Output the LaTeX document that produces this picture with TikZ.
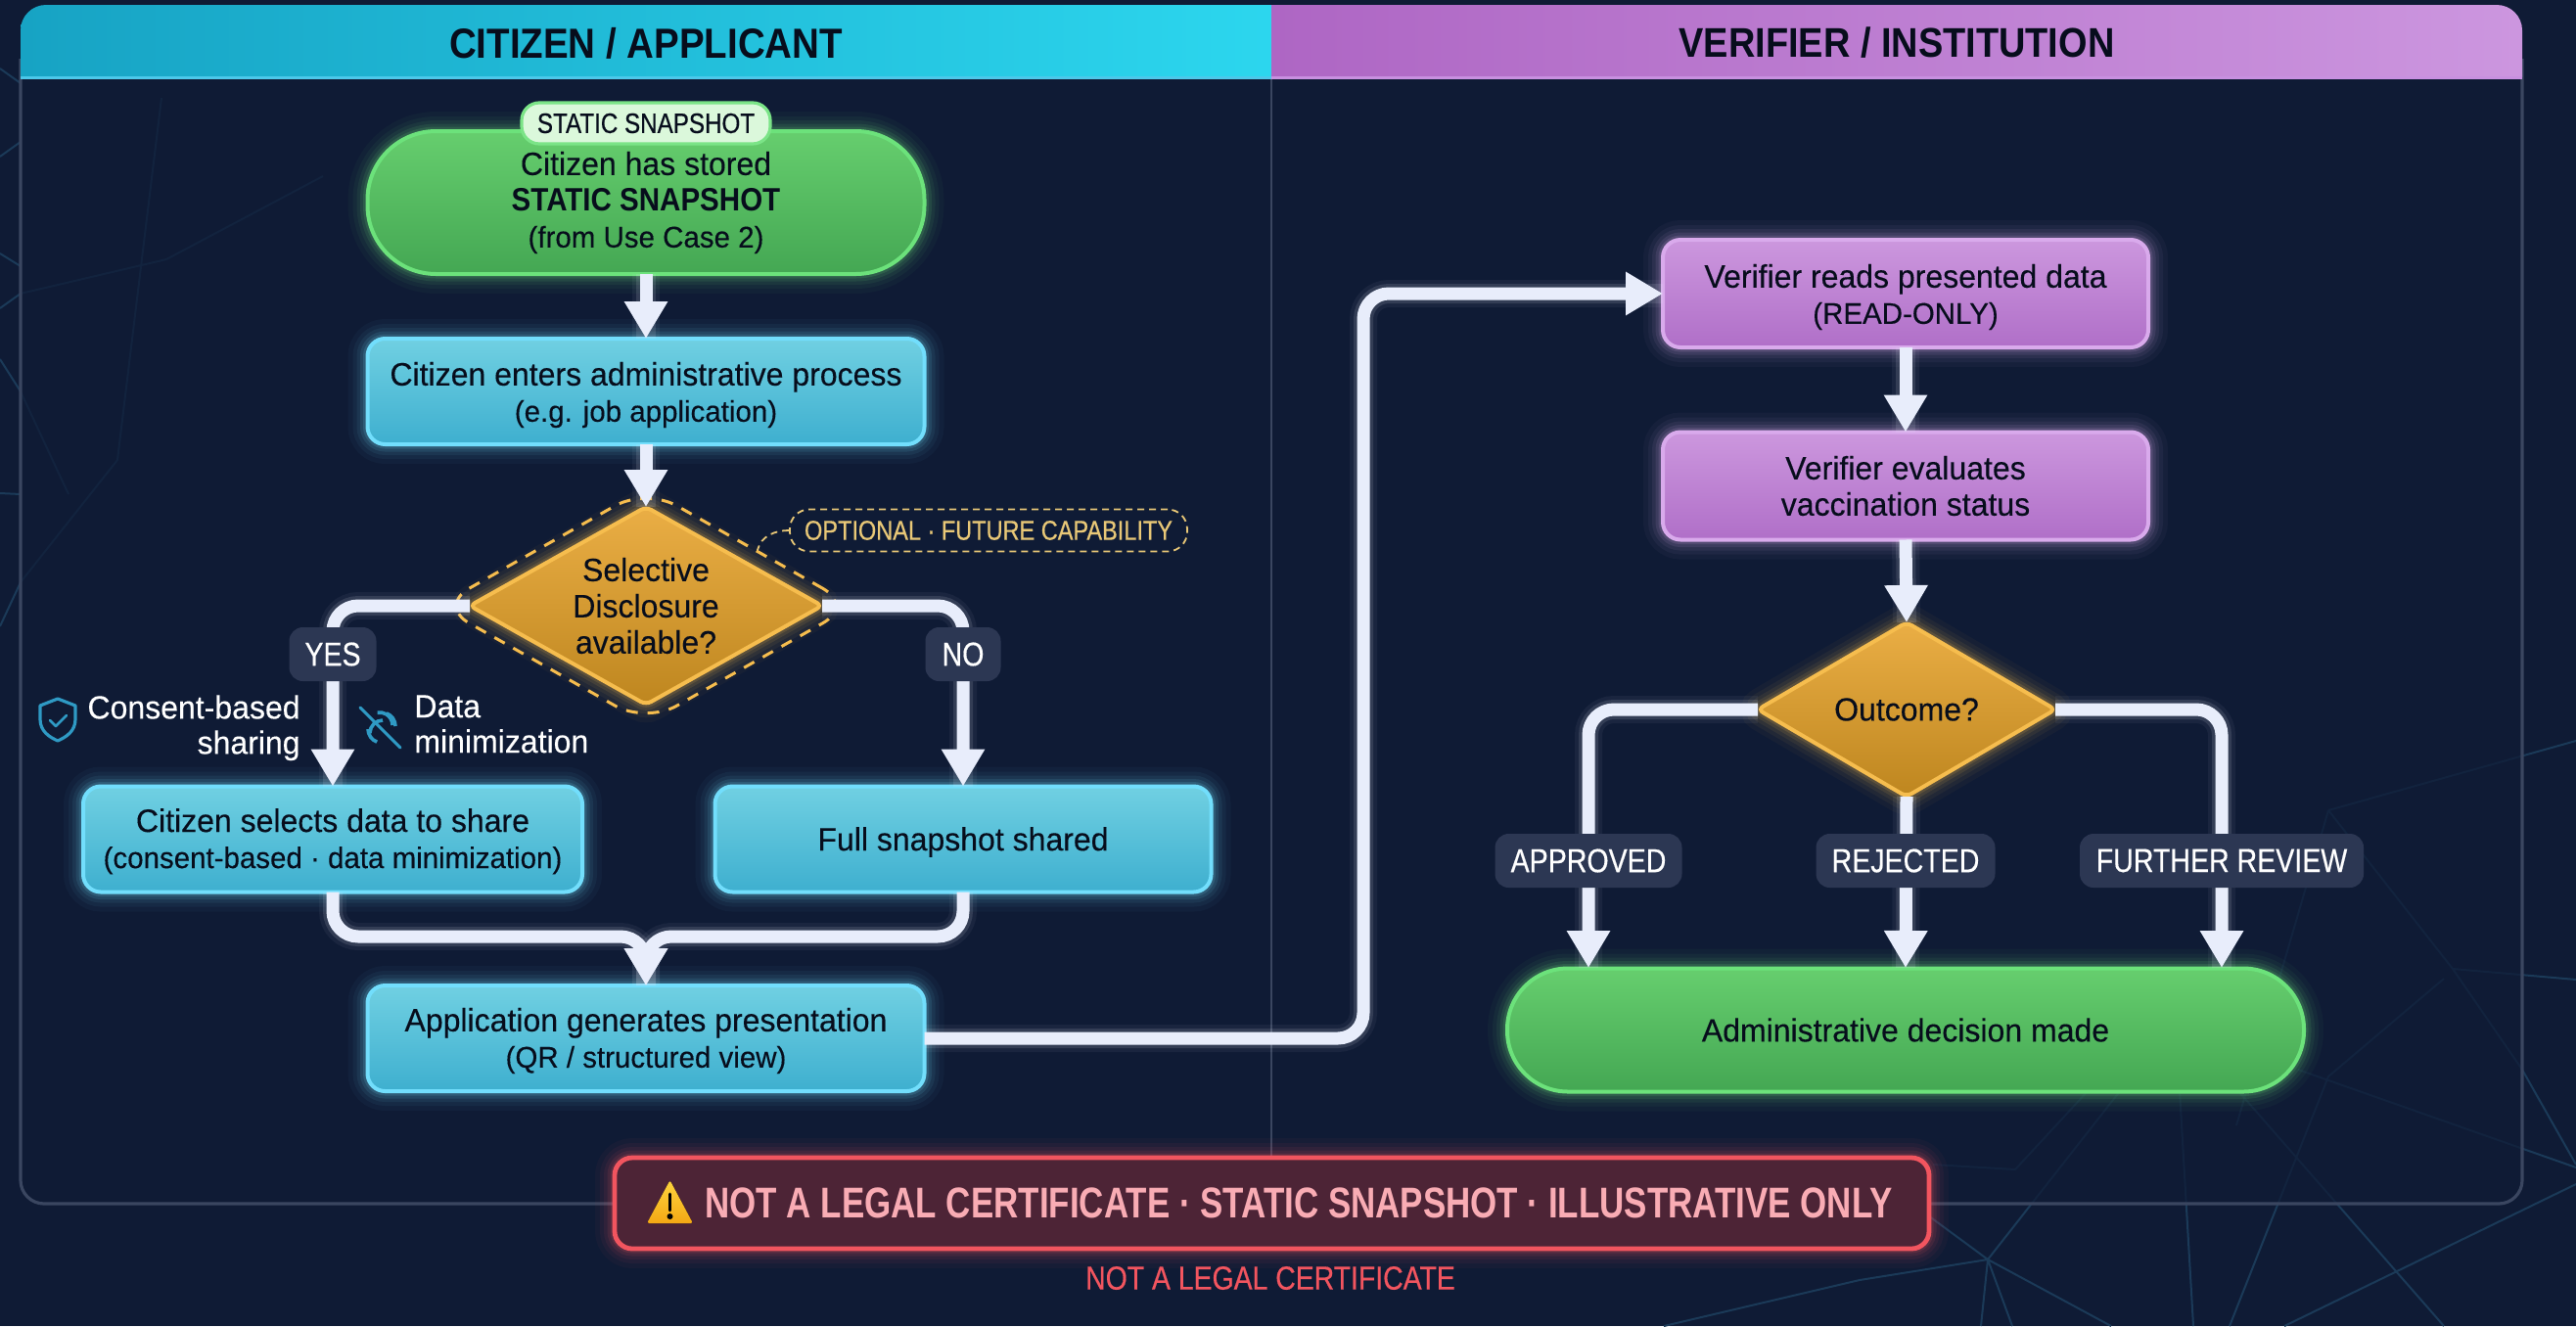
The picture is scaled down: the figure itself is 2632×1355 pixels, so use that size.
\documentclass[tikz,border=0pt]{standalone}
\usepackage{fontspec}
\setmainfont{Liberation Sans}[FakeStretch=0.97,FakeBold=0.25]
\newfontfamily\capsf{Liberation Sans}[FakeStretch=0.84,FakeBold=0.4]
\newfontfamily\medf{Liberation Sans}[FakeStretch=0.794]
\newfontfamily\hdf{Liberation Sans}[FakeStretch=0.895]
\newcommand{\subln}[1]{{\fontsize{15.2}{18.5}\selectfont #1}}
\newcommand{\nudge}{\rule{0pt}{15.5pt}}
\usetikzlibrary{arrows.meta,shapes.geometric,calc}
\definecolor{bgc}{HTML}{0F1B35}
\definecolor{netc}{HTML}{1B3A58}
\definecolor{panelc}{HTML}{3A4660}
\definecolor{connc}{HTML}{E8EDFB}
\definecolor{badgec}{HTML}{2C3753}
\definecolor{inkc}{HTML}{070D1C}
\definecolor{iconc}{HTML}{2F9AC4}
\definecolor{gold}{HTML}{E9C877}
\definecolor{blueT}{HTML}{70D0E2}\definecolor{blueB}{HTML}{3EAFCF}\definecolor{blueE}{HTML}{72DEFC}
\definecolor{purT}{HTML}{CC97DE}\definecolor{purB}{HTML}{B06FC8}\definecolor{purE}{HTML}{D9AAEC}
\definecolor{grnT}{HTML}{66CE6E}\definecolor{grnB}{HTML}{44A753}\definecolor{grnE}{HTML}{6CE27B}
\definecolor{orgT}{HTML}{EAAE45}\definecolor{orgB}{HTML}{BE861F}\definecolor{orgE}{HTML}{F6BD4E}
\definecolor{hcL}{HTML}{17A3C4}\definecolor{hcR}{HTML}{2CD6EE}\definecolor{hcE}{HTML}{4CC8EA}
\definecolor{hpL}{HTML}{AE66C4}\definecolor{hpR}{HTML}{CC96DF}\definecolor{hpE}{HTML}{C890E0}
\definecolor{snapE}{HTML}{7BE487}\definecolor{snapF}{HTML}{DBF8DB}
\definecolor{warnE}{HTML}{F2555F}\definecolor{warnF}{HTML}{4D2436}\definecolor{warnT}{HTML}{F9ACB4}
\definecolor{triT}{HTML}{FDD43E}\definecolor{triB}{HTML}{F4A814}
\tikzset{
  x=0.5pt,y=-0.5pt,
  halo/.style={
    preaction={draw=#1,line width=20pt,opacity=.035},
    preaction={draw=#1,line width=15pt,opacity=.05},
    preaction={draw=#1,line width=11pt,opacity=.07},
    preaction={draw=#1,line width=7.5pt,opacity=.10},
    preaction={draw=#1,line width=4.5pt,opacity=.14}},
  box/.style={rectangle,inner sep=0pt,outer sep=0pt,align=center,text=inkc,line width=2pt},
  txt/.style={font=\fontsize{16.5}{18.5}\selectfont},
  bluebox/.style={box,txt,draw=blueE,top color=blueT,bottom color=blueB,halo=blueE,rounded corners=9pt},
  purplebox/.style={box,txt,draw=purE,top color=purT,bottom color=purB,halo=purE,rounded corners=9pt},
  greenbox/.style={box,txt,draw=grnE,top color=grnT,bottom color=grnB,halo=grnE},
  decide/.style={diamond,inner sep=0pt,outer sep=0pt,draw=orgE,line width=2pt,top color=orgT,bottom color=orgB,halo=orgE,rounded corners=3pt},
  chip/.style={rectangle,fill=badgec,rounded corners=7pt,inner sep=0pt,text=white,minimum height=27.5pt,font=\capsf\fontsize{17}{18}\selectfont},
  conn/.style={draw=connc,line width=6.5pt,rounded corners=13pt,line join=round,
    -{Triangle[length=19pt,width=21pt]},
    preaction={draw=connc,line width=14pt,opacity=.05,arrows=-},
    preaction={draw=connc,line width=10pt,opacity=.12,arrows=-}},
  net/.style={draw=netc,line width=1pt},
  note/.style={text=white,align=right,inner sep=0pt,font=\fontsize{16.5}{18}\selectfont},
}
\begin{document}
\begin{tikzpicture}
\useasboundingbox (0,0) rectangle (2632,1355);
\fill[bgc] (0,0) rectangle (2632,1355);
% background network
\path[net]
  (2031,1287) -- (1900,1308) (1900,1308) -- (1700,1355)
  (2031,1287) -- (1970,1242)
  (2031,1287) -- (2166,1115)
  (2031,1287) -- (2024,1355)
  (2031,1287) -- (2056,1355)
  (2031,1287) -- (2157,1355)
  (2227,1115) -- (2241,1355)
  (2287,1115) -- (2497,1355)
  (2278,1355) -- (2379,1100) -- (2497,1000)
  (2334,1355) -- (2632,1210)
  (2348,1093) -- (2632,1193)
  (2133,1115) -- (2059,1195) -- (1975,1190)
  (2577,1093) -- (2632,1190)
  (2379,828) -- (2632,757)
  (2379,828) -- (2285,1150)
  (2506,990) -- (2632,1001)
  (2379,828) -- (2506,990) -- (2577,1093)
  (0,70) -- (21,85) (0,160) -- (21,145) (0,259) -- (21,272)
  (0,315) -- (21,300) -- (170,265) -- (330,180)
  (0,367) -- (21,400) -- (70,505)
  (0,504) -- (21,505)
  (0,640) -- (21,595) -- (120,470) -- (165,100);
% panel
\draw[panelc,line width=1.6pt,rounded corners=12pt,fill=bgc,fill opacity=.72] (21,60) -- (21,1230) -- (2577,1230) -- (2577,60);
\draw[panelc,line width=1.2pt] (1299,79) -- (1299,1183);
% headers
\shade[left color=hcL,right color=hcR]
  (21,79) [rounded corners=13pt] -- (21,5) [sharp corners] -- (1299,5) -- (1299,79) -- cycle;
\shade[left color=hpL,right color=hpR]
  (1299,79) -- (1299,5) [rounded corners=13pt] -- (2577,5) [sharp corners] -- (2577,79) -- cycle;
\draw[hcE,line width=1.5pt] (21,79) -- (1299,79);
\draw[hpE,line width=1.5pt] (1299,79) -- (2577,79);
\node[text=inkc,font=\hdf\bfseries\fontsize{21.5}{26}\selectfont] (hcit) at (660,44) {CITIZEN / APPLICANT};
\node[text=inkc,font=\hdf\bfseries\fontsize{21.2}{26}\selectfont] (hver) at (1938,44) {VERIFIER / INSTITUTION};
% left lane nodes
\node[greenbox,rounded corners=35pt,minimum width=284.5pt,minimum height=73pt] (start) at (660,207)
  {Citizen has stored\\{\hdf\bfseries STATIC SNAPSHOT}\\\subln{(from Use Case 2)}};
\node[rectangle,inner sep=0pt,rounded corners=9pt,draw=snapE,line width=1.6pt,fill=snapF,
  text=inkc,minimum width=127pt,minimum height=21pt,font=\capsf\fontsize{14.4}{16}\selectfont] (snap) at (660,126) {STATIC SNAPSHOT};
\node[bluebox,minimum width=284.5pt,minimum height=54pt] (proc) at (660,400)
  {\nudge Citizen enters administrative process\\\subln{(e.g. job application)}};
\node[diamond,inner sep=0pt,outer sep=0pt,draw=orgE,line width=1.5pt,dash pattern=on 6pt off 5pt,rounded corners=18pt,minimum width=212pt,minimum height=120pt] (dash) at (660,619) {};
\node[decide,minimum width=180pt,minimum height=101pt] (dsel) at (660,619) {};
\node[text=inkc,align=center,inner sep=0pt,txt] (dseltxt) at (dsel.center) {Selective\\Disclosure\\available?};
\node[rectangle,inner sep=0pt,rounded corners=10pt,draw=gold,line width=.9pt,dash pattern=on 3.5pt off 2.5pt,text=gold,minimum width=203pt,minimum height=21.5pt,font=\capsf\fontsize{14}{16}\selectfont] (opt) at (1010,542) {OPTIONAL · FUTURE CAPABILITY};
\coordinate (optend) at (774,562);
\draw[gold,line width=.9pt,dash pattern=on 3.5pt off 2.5pt] (opt.west) to[out=180,in=75] (optend);
\node[bluebox,minimum width=255pt,minimum height=54pt] (sel) at (340,857.5)
  {\rule{0pt}{14.2pt}Citizen selects data to share\\\subln{(consent-based · data minimization)}};
\node[bluebox,minimum width=253.5pt,minimum height=54pt] (full) at (984,857.5) {\rule{0pt}{15pt}Full snapshot shared};
\node[bluebox,minimum width=284.5pt,minimum height=54pt] (app) at (660,1061)
  {\rule{0pt}{14.5pt}Application generates presentation\\\subln{(QR / structured view)}};
% right lane nodes
\node[purplebox,minimum width=248pt,minimum height=55pt] (read) at (1947,300)
  {\nudge Verifier reads presented data\\\subln{(READ-ONLY)}};
\node[purplebox,minimum width=248pt,minimum height=55pt] (eval) at (1947,496.5)
  {Verifier evaluates\\vaccination status};
\node[decide,minimum width=152pt,minimum height=89pt] (dout) at (1948,725) {};
\node[text=inkc,inner sep=0pt,txt] (douttxt) at (dout.center) {Outcome?};
\node[greenbox,rounded corners=31pt,minimum width=407pt,minimum height=63pt] (dec) at (1947,1052.5) {Administrative decision made};
\coordinate (mrg) at (660,957);
\coordinate (vbend) at (1393,300);
\coordinate (tipA) at (1623,989);
\coordinate (tipR) at (1947,989);
\coordinate (tipF) at (2270,989);
% connectors
\draw[conn] (start.south) -- (proc.north);
\draw[conn] (proc.south) -- (dsel.north);
\draw[conn] (dsel.west) -| (sel.north);
\draw[conn] (dsel.east) -| (full.north);
\draw[conn] (sel.south) |- (mrg) [rounded corners=5pt] -- (app.north);
\draw[conn] (full.south) |- (mrg) [rounded corners=5pt] -- (app.north);
\draw[conn] (app.east) -| (vbend) -- (read.west);
\draw[conn] (read.south) -- (eval.north);
\draw[conn] (eval.south) -- (dout.north);
\draw[conn] (dout.west) -| (tipA);
\draw[conn] (dout.south) -- (tipR);
\draw[conn] (dout.east) -| (tipF);
% branch labels
\node[chip,minimum width=44.5pt] (yes) at (340,668.5) {YES};
\node[chip,minimum width=38.5pt] (no) at (984,668.5) {NO};
\node[chip,minimum width=95.5pt] (lapp) at (1623,879.5) {APPROVED};
\node[chip,minimum width=91.5pt] (lrej) at (1947,879.5) {REJECTED};
\node[chip,minimum width=145pt] (lfur) at (2270,879.5) {FURTHER REVIEW};
% side notes
\node[note,anchor=north east] (consent) at (307,710) {Consent-based\\sharing};
\node[note,anchor=north west,align=left] (datamin) at (423,710) {Data\\minimization};
% shield icon
\draw[iconc,line width=1.6pt,line join=round] (59,714) -- (77,721) -- (77,735) .. controls (77,747) and (68,753) .. (59,757) .. controls (50,753) and (41,747) .. (41,735) -- (41,721) -- cycle;
\draw[iconc,line width=1.4pt,line cap=round,line join=round] (51,736) -- (57,742) -- (68,731);
% data icon
\draw[iconc,line width=1.5pt,line cap=round] (368,723) -- (409,764);
\draw[iconc,line width=1.8pt] (401,741) arc (0:-100:13);
\draw[iconc,line width=1.8pt] (378,749) arc (180:270:13);
\draw[iconc,line width=1.8pt] (376,745) arc (180:110:14);
\draw[iconc,line width=1.8pt] (404,742) arc (0:-70:14);
% warning
\node[rectangle,inner sep=0pt,rounded corners=9pt,draw=warnE,line width=2.4pt,fill=warnF,halo=warnE,
  minimum width=671.5pt,minimum height=46.5pt] (warn) at (1299.5,1229.5) {};
\node[text=warnT,inner sep=0pt,font=\medf\bfseries\fontsize{22}{26}\selectfont] (warntxt) at (1327,1229) {NOT A LEGAL CERTIFICATE · STATIC SNAPSHOT · ILLUSTRATIVE ONLY};
\fill[top color=triT,bottom color=triB,rounded corners=1.2pt] (684.5,1206) -- (708,1250) -- (661,1250) -- cycle;
\draw[black,line width=1.3pt,line cap=round] (684.5,1220) -- (684.5,1237);
\fill[black] (684.5,1243) circle (3);
\node[text=warnE,inner sep=0pt,font=\capsf\fontsize{16.9}{18}\selectfont] (warn2) at (1298,1306) {NOT A LEGAL CERTIFICATE};
\end{tikzpicture}
\end{document}
